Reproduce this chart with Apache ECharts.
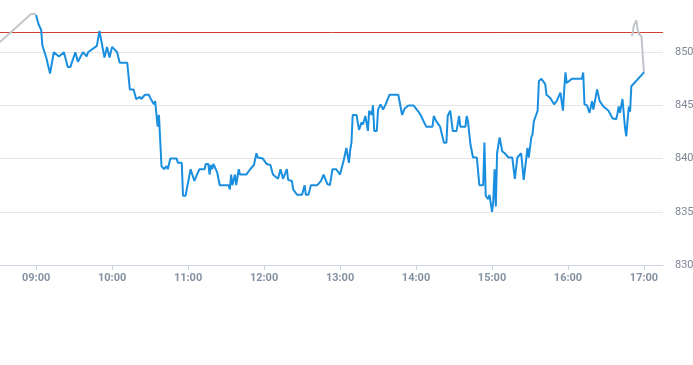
<!DOCTYPE html>
<html><head><meta charset="utf-8">
<script src="https://cdn.jsdelivr.net/npm/echarts@6/dist/echarts.min.js"></script>
<style>html,body{margin:0;padding:0;background:#fff}#c{width:693px;height:365px}</style>
</head><body><div id="c"></div>
<script>
var DAY = '2024-01-02 ';
var xStart = '08:31:30', xEnd = '17:15:00';
var preTimes = ['08:31','08:56','09:00'];
var preValues = [850.9, 853.6, 853.6];
var mainTimes = ['09:00','09:02','09:04','09:05','09:08','09:11','09:14','09:18','09:22','09:25','09:27','09:31','09:33','09:37','09:40','09:41','09:48','09:50','09:54','09:56','09:58','10:00','10:04','10:06','10:12','10:14','10:17','10:19','10:22','10:23','10:26','10:29','10:31','10:33','10:34','10:36','10:37','10:38','10:39','10:41','10:43','10:44','10:46','10:51','10:52','10:55','10:56','10:58','11:02','11:05','11:07','11:09','11:13','11:14','11:16','11:17','11:18','11:19','11:20','11:23','11:25','11:32','11:33','11:34','11:35','11:37','11:38','11:40','11:41','11:46','11:49','11:52','11:54','11:55','11:59','12:02','12:05','12:07','12:11','12:13','12:15','12:18','12:19','12:22','12:23','12:26','12:30','12:32','12:33','12:35','12:37','12:42','12:45','12:47','12:50','12:52','12:54','12:57','13:00','13:03','13:05','13:07','13:08','13:09','13:10','13:13','13:15','13:17','13:18','13:20','13:22','13:23','13:24','13:25','13:26','13:27','13:29','13:30','13:32','13:34','13:36','13:39','13:46','13:49','13:51','13:54','13:58','14:02','14:04','14:05','14:08','14:13','14:14','14:16','14:19','14:22','14:24','14:25','14:27','14:29','14:32','14:34','14:35','14:39','14:40','14:41','14:43','14:45','14:48','14:50','14:53','14:54','14:55','14:57','14:58','15:00','15:01','15:02','15:03','15:04','15:06','15:08','15:10','15:13','15:16','15:18','15:20','15:23','15:25','15:28','15:29','15:31','15:32','15:33','15:36','15:37','15:39','15:42','15:43','15:46','15:47','15:49','15:51','15:54','15:56','15:57','15:58','15:59','16:03','16:11','16:12','16:13','16:15','16:17','16:19','16:20','16:23','16:25','16:28','16:32','16:35','16:38','16:39','16:40','16:41','16:43','16:45','16:46','16:48','16:49','16:50','17:00'];
var mainValues = [853.5,852.6,852.1,850.6,849.5,848.0,850.0,849.6,850.0,848.6,848.6,850.0,849.1,850.0,849.6,850.0,850.6,852.0,849.5,850.5,849.5,850.5,850.0,849.0,849.0,846.5,846.5,845.6,845.8,845.6,846.0,846.0,845.5,845.1,845.4,843.0,844.1,844.0,839.3,839.0,839.3,839.0,840.0,840.0,839.6,839.6,836.5,836.5,839.0,837.9,838.5,839.0,839.0,839.5,839.5,838.5,839.4,839.0,839.5,838.7,837.5,837.5,837.1,838.5,837.5,838.5,837.5,839.0,838.5,838.5,839.0,839.4,840.5,840.1,840.0,839.5,839.4,838.5,838.1,839.0,838.1,839.0,838.0,837.9,837.1,836.6,836.6,837.5,836.6,836.6,837.5,837.5,837.9,838.5,837.6,837.5,839.0,839.0,838.5,839.9,841.0,839.6,840.8,841.5,844.1,844.1,842.7,843.4,843.2,844.0,842.6,844.5,844.5,844.1,845.0,842.6,842.6,844.6,845.1,844.6,845.1,846.0,846.0,844.1,844.7,845.0,845.0,844.4,844.0,844.0,843.0,843.0,844.0,843.5,843.0,841.5,841.5,844.0,844.5,842.6,842.6,844.0,843.0,843.0,844.0,843.5,841.3,840.1,840.1,837.5,837.5,841.5,836.5,836.2,836.6,835.0,836.0,839.0,835.5,840.5,842.0,840.7,840.5,840.1,840.1,838.1,840.1,840.5,838.0,841.0,840.1,842.0,842.3,843.5,844.5,847.3,847.5,847.0,846.0,845.7,845.6,845.1,845.4,846.2,844.5,846.5,848.1,847.1,847.5,847.5,848.1,845.1,845.0,844.3,845.4,844.6,846.5,845.4,844.9,844.5,843.8,843.7,844.2,844.9,844.3,845.6,842.9,842.1,844.9,844.4,846.8,848.1];
var postTimes = ['16:50:30','16:52','16:54','16:55','16:56','16:58','17:00'];
var postValues = [851.5, 852.5, 853.0, 852.1, 851.7, 851.5, 848.0];
var refLevel = 851.85;
var yTicks = [830, 835, 840, 845, 850];

function ts(s) { return DAY + (s.length === 5 ? s + ':00' : s); }
function pairs(t, v) { return t.map(function (s, i) { return [ts(s), v[i]]; }); }

var chart = echarts.init(document.getElementById('c'), null, {renderer: 'canvas'});
chart.setOption({
  animation: false,
  grid: {left: 0, right: 30, top: -1, bottom: 100, containLabel: false, outerBoundsMode: 'none'},
  xAxis: {
    type: 'time',
    min: ts(xStart), max: ts(xEnd),
    interval: 3600000, minInterval: 3600000, maxInterval: 3600000,
    axisLine: {lineStyle: {color: '#ccd6e0'}},
    axisTick: {show: true, length: 5, lineStyle: {color: '#ccd6e0'}},
    splitLine: {show: false},
    axisLabel: {
      showMinLabel: false, showMaxLabel: false,
      color: '#8592a3', fontSize: 11, fontWeight: 'bold', fontFamily: 'Roboto, sans-serif', margin: 8,
      formatter: function (val) { var d = new Date(val); var h = d.getHours(), m = d.getMinutes(); return (h < 10 ? '0' : '') + h + ':' + (m < 10 ? '0' : '') + m; }
    }
  },
  yAxis: {
    type: 'value', position: 'right', min: 830, max: 855, interval: 5, scale: true,
    axisLine: {show: false}, axisTick: {show: false},
    splitLine: {lineStyle: {color: '#e6e6e6'}},
    axisLabel: {showMaxLabel: false, color: '#7f8794', fontSize: 11, fontFamily: 'Roboto, sans-serif', margin: 12,
      formatter: function (v) { return yTicks.indexOf(v) >= 0 ? String(v) : ''; }}
  },
  series: [
    {type: 'line', data: [[ts(xStart), refLevel], [ts(xEnd), refLevel]], symbol: 'none', lineStyle: {color: '#d43a32', width: 1}, silent: true, z: 1},
    {type: 'line', data: pairs(preTimes, preValues), symbol: 'none', lineStyle: {color: '#c0c4cb', width: 2}, silent: true, z: 2},
    {type: 'line', data: pairs(mainTimes, mainValues), symbol: 'none', lineStyle: {color: '#1a8fe0', width: 2}, silent: true, z: 3},
    {type: 'line', data: pairs(postTimes, postValues), symbol: 'none', lineStyle: {color: '#c0c4cb', width: 2}, silent: true, z: 2}
  ]
});
</script></body></html>
